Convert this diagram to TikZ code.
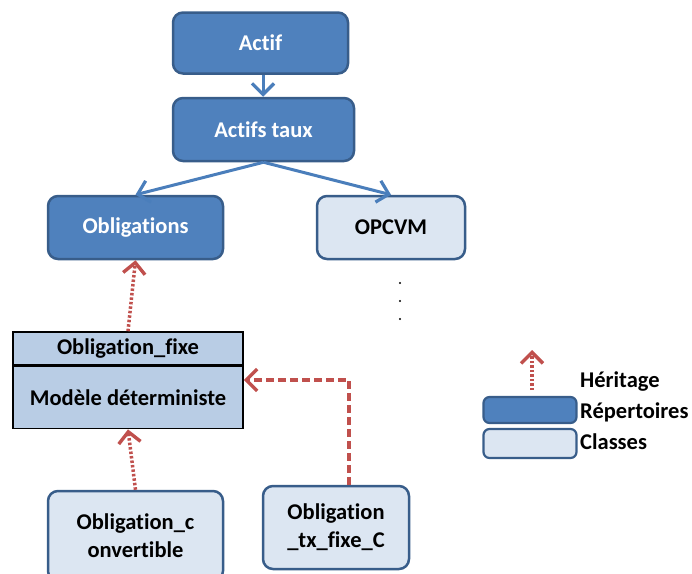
\documentclass[tikz,border=0pt]{standalone}
\usepackage{fontspec}
\setmainfont{Carlito}[Ligatures={NoCommon}]
\usetikzlibrary{arrows.meta}
\definecolor{repfill}{HTML}{4F81BD}
\definecolor{repline}{HTML}{385D8A}
\definecolor{clsfill}{HTML}{DCE6F2}
\definecolor{fixefill}{HTML}{B9CDE5}
\definecolor{linkblue}{HTML}{4A7EBB}
\definecolor{herit}{HTML}{C0504D}
\tikzset{
  base/.style={font=\fontsize{22.5}{28}\selectfont\bfseries, align=center,
    inner sep=0pt, line width=2.5pt, rounded corners=10pt},
  repbox/.style={base, draw=repline, fill=repfill, text=white},
  clsbox/.style={base, draw=repline, fill=clsfill, text=black},
  fixebox/.style={base, rounded corners=0pt, draw=black, line width=1.6pt, fill=fixefill, text=black},
  compo/.style={draw=linkblue, line width=3pt,
    -{Straight Barb[length=11pt,width=22pt,line width=3.2pt]}},
  heritdot/.style={draw=herit, line width=3.5pt, dash pattern=on 2.5pt off 2pt,
    -{Straight Barb[length=11pt,width=22pt,line width=3.4pt]}},
  heritdash/.style={draw=herit, line width=3.2pt, dash pattern=on 8pt off 4pt,
    -{Straight Barb[length=11pt,width=22pt,line width=3.4pt]}},
  legtext/.style={font=\fontsize{22.5}{28}\selectfont\bfseries, anchor=west, inner sep=0pt},
}
\begin{document}
\begin{tikzpicture}[x=1pt, y=-1pt]
\useasboundingbox (0,0) rectangle (692,573);
\begin{scope}
\clip (0,0) rectangle (692,573);

% repertoires and classes
\node[repbox, minimum width=175pt, minimum height=61pt] (actif) at (260.5,43) {Actif};
\node[repbox, minimum width=181pt, minimum height=63pt] (taux) at (263.5,129.5) {Actifs taux};
\node[repbox, minimum width=175pt, minimum height=63pt] (oblig) at (135.5,227.5) {Obligations};
\node[clsbox, minimum width=148pt, minimum height=63pt] (opcvm) at (391,227.5) {OPCVM};

% Obligation_fixe class: title compartment and body
\node[fixebox, minimum width=230pt, minimum height=33pt] (fixe) at (128,348.5) {Obligation\_fixe};
\node[fixebox, minimum width=230pt, minimum height=62pt, anchor=north] (fixebody) at (fixe.south) {Modèle déterministe};

\node[clsbox, minimum width=175pt, minimum height=90pt] (conv) at (135.5,536) {Obligation\_c\\onvertible};
\node[clsbox, minimum width=146pt, minimum height=83pt] (txc) at (336,527.5) {Obligation\\\_tx\_fixe\_C};

% continuation dots below OPCVM
\foreach \yy [count=\i] in {283,301,319}
  \fill (400,\yy) circle (1.2pt) coordinate (dot\i);

% composition links
\draw[compo] (actif.south -| 263,0) -- (taux.north -| 263,0);
\draw[compo] (taux.south) -- (oblig.north);
\draw[compo] (taux.south) -- (opcvm.north);

% inheritance links
\draw[heritdot] (fixe.north) -- (oblig.south);
\draw[heritdot] (conv.north) -- (fixebody.south);
\draw[heritdash] (txc.north -| 349,0) |- (fixebody.east |- 0,380);

% legend
\coordinate (legfoot) at (532,390);
\coordinate (leghead) at (532,350);
\draw[heritdot] (legfoot) -- (leghead);
\node[repbox, line width=2.2pt, rounded corners=6pt, minimum width=93pt, minimum height=26pt] (legrep) at (530,410) {};
\node[clsbox, line width=2.2pt, rounded corners=6pt, minimum width=93pt, minimum height=29pt] (legcls) at (530,443.5) {};
\node[legtext] (lherit) at (580,382) {Héritage};
\node[legtext] (lrep) at (580,412) {Répertoires};
\node[legtext] (lcls) at (580,442) {Classes};
\end{scope}
\end{tikzpicture}
\end{document}
